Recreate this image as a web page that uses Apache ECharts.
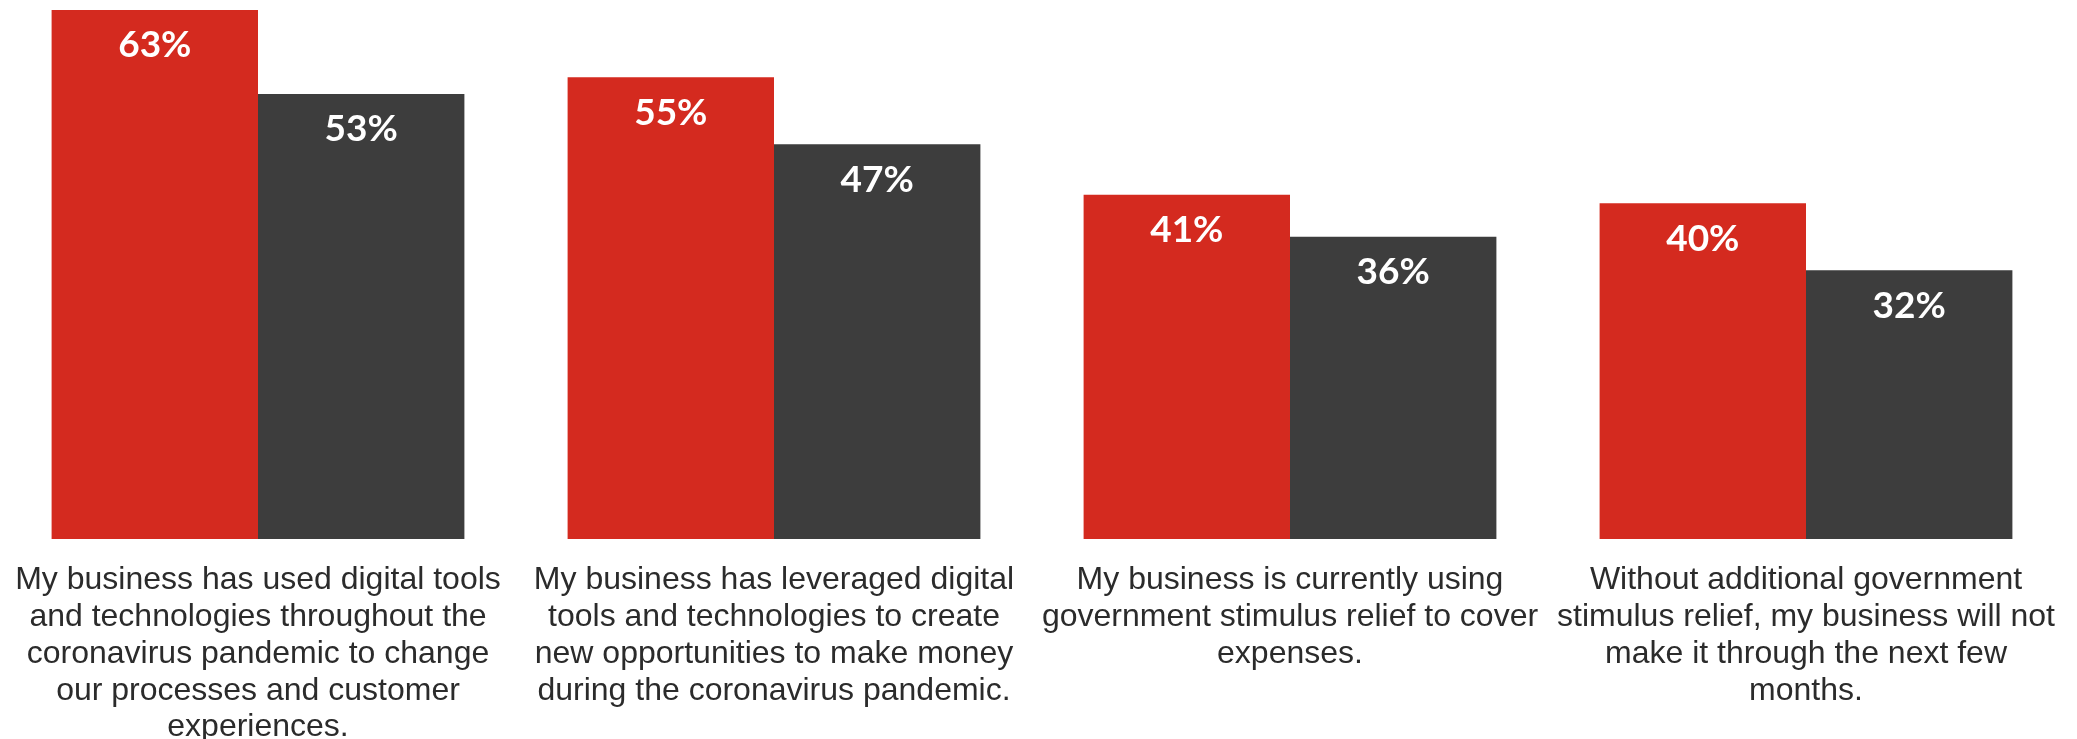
<!DOCTYPE html>
<html>
<head>
<meta charset="utf-8">
<script src="https://cdn.jsdelivr.net/npm/echarts@6/dist/echarts.min.js"></script>
<style>
html,body{margin:0;padding:0;background:#fff;}
#chart{width:2077px;height:739px;}
</style>
</head>
<body>
<div id="chart"></div>
<script>
const categories = [
  "My business has used digital tools\nand technologies throughout the\ncoronavirus pandemic to change\nour processes and customer\nexperiences.",
  "My business has leveraged digital\ntools and technologies to create\nnew opportunities to make money\nduring the coronavirus pandemic.",
  "My business is currently using\ngovernment stimulus relief to cover\nexpenses.",
  "Without additional government\nstimulus relief, my business will not\nmake it through the next few\nmonths."
];
const seriesRed = [63, 55, 41, 40];
const seriesDark = [53, 47, 36, 32];

const chart = echarts.init(document.getElementById('chart'), null, {renderer: 'canvas'});
const labelStyle = {
  show: true,
  position: 'insideTop',
  distance: 17,
  color: '#ffffff',
  fontFamily: 'Lato',
  fontWeight: 'bold',
  fontSize: 37,
  formatter: p => p.value + '%'
};
chart.setOption({
  animation: false,
  backgroundColor: '#ffffff',
  grid: {left: 0, right: 13, top: 10, bottom: 200, containLabel: false, outerBoundsMode: 'none'},
  xAxis: {
    type: 'category',
    data: categories,
    axisLine: {show: false},
    axisTick: {show: false},
    axisLabel: {
      interval: 0,
      margin: 23,
      color: '#2b2b2b',
      fontFamily: 'Liberation Sans',
      fontSize: 32,
      lineHeight: 36.8,
      align: 'center'
    }
  },
  yAxis: {
    type: 'value',
    min: 0,
    max: 63,
    show: false,
    splitLine: {show: false}
  },
  series: [
    {
      name: 'Red',
      type: 'bar',
      data: seriesRed,
      barGap: '0%',
      barCategoryGap: '20%',
      itemStyle: {color: '#D42A1F'},
      label: labelStyle
    },
    {
      name: 'Dark',
      type: 'bar',
      data: seriesDark,
      itemStyle: {color: '#3D3D3D'},
      label: labelStyle
    }
  ]
});
</script>
</body>
</html>
